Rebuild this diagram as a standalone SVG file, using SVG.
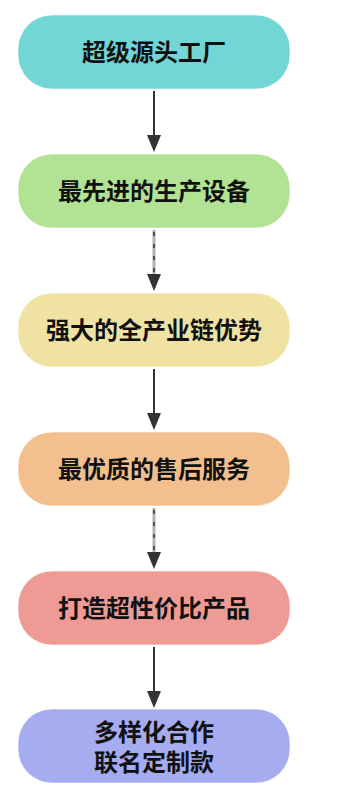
<svg xmlns="http://www.w3.org/2000/svg" width="357" height="793" viewBox="0 0 357 793">
<style>
.box{stroke:#ffffff;stroke-opacity:0.6;stroke-width:1}
.t{font-family:"Noto Sans CJK SC","Noto Sans",sans-serif;font-weight:bold;font-size:24px;fill:#111;text-anchor:middle}
.solid{stroke:#333;stroke-width:2;fill:none}
.dbg{stroke:#b0b0b0;stroke-width:3;fill:none}
.dfg{stroke:#333;stroke-width:1.5;stroke-dasharray:4 8;fill:none}
.head{fill:#333}
</style>
<rect width="357" height="793" fill="#ffffff"/>
<g id="n1"><rect class="box" x="18" y="15" width="272" height="74" rx="34" fill="#72D5D6"/><text class="t" x="154" y="61">超级源头工厂</text></g>
<g id="n2"><rect class="box" x="18" y="154" width="272" height="74" rx="34" fill="#B2E293"/><text class="t" x="154" y="200">最先进的生产设备</text></g>
<g id="n3"><rect class="box" x="18" y="293" width="272" height="74" rx="34" fill="#EFE2A2"/><text class="t" x="154" y="339">强大的全产业链优势</text></g>
<g id="n4"><rect class="box" x="18" y="432" width="272" height="74" rx="34" fill="#F3BF8E"/><text class="t" x="154" y="478">最优质的售后服务</text></g>
<g id="n5"><rect class="box" x="18" y="571" width="272" height="74" rx="34" fill="#EE9B96"/><text class="t" x="154" y="617">打造超性价比产品</text></g>
<g id="n6"><rect class="box" x="18" y="709" width="272" height="74" rx="34" fill="#A6ACF0"/><text class="t" x="154" y="741">多样化合作</text><text class="t" x="154" y="771">联名定制款</text></g>
<g id="connectors">
<line class="solid" x1="154" y1="91" x2="154" y2="138"/><polygon class="head" points="147,135 161,135 154,152"/>
<line class="dbg" x1="154" y1="230" x2="154" y2="277"/><line class="dfg" x1="154" y1="232" x2="154" y2="277"/><polygon class="head" points="147,274 161,274 154,291"/>
<line class="solid" x1="154" y1="369" x2="154" y2="416"/><polygon class="head" points="147,413 161,413 154,430"/>
<line class="dbg" x1="154" y1="508" x2="154" y2="555"/><line class="dfg" x1="154" y1="510" x2="154" y2="555"/><polygon class="head" points="147,552 161,552 154,569"/>
<line class="solid" x1="154" y1="647" x2="154" y2="694"/><polygon class="head" points="147,691 161,691 154,708"/>
</g>
</svg>
